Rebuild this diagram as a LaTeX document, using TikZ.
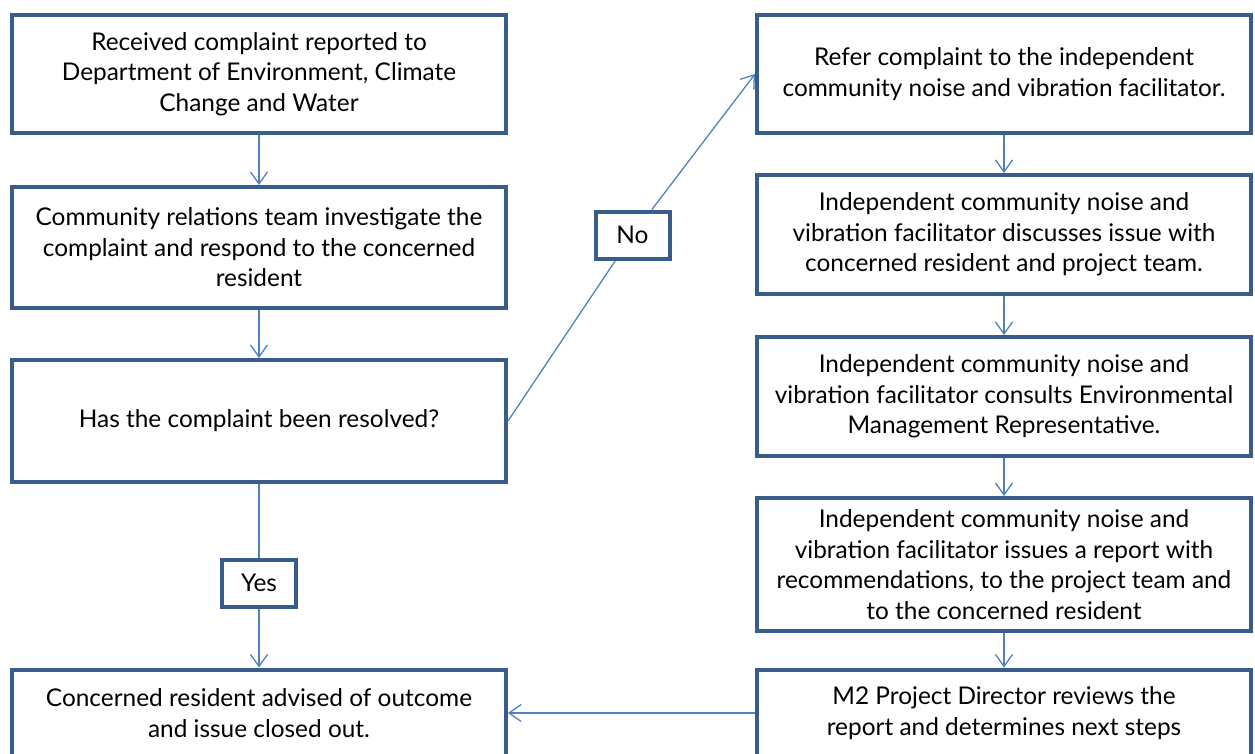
\documentclass[tikz,border=0pt]{standalone}
\usepackage{fontspec}
\setmainfont{Lato}
\usetikzlibrary{arrows.meta}
\definecolor{boxblue}{RGB}{56,93,138}
\definecolor{linkblue}{RGB}{79,129,189}

\begin{document}
\begin{tikzpicture}[x=1pt,y=-1pt,
  box/.style={draw=boxblue,line width=4pt,minimum width=494pt,align=center,inner sep=0pt,font=\fontsize{24.4}{30.5}\selectfont},
  tag/.style={draw=boxblue,line width=4pt,minimum width=74pt,minimum height=47pt,inner sep=0pt,font=\fontsize{24.4}{28}\selectfont},
  link/.style={draw=linkblue,line width=1.3pt},
  tip/.style={-{Straight Barb[length=12pt,width=17pt]}}]
\useasboundingbox (0,0) rectangle (1255,753);
\clip (0,0) rectangle (1255,753);

\node[box,minimum height=118pt] (1) at (259,74) {Received complaint reported to\\Department of Environment, Climate\\Change and Water};
\node[box,minimum height=121pt] (2) at (259,247.5) {Community relations team investigate the\\complaint and respond to the concerned\\resident};
\node[box,minimum height=122pt] (3) at (259,421) {Has the complaint been resolved?};
\node[box,minimum height=87pt] (4) at (259,713) {Concerned resident advised of outcome\\and issue closed out.};
\node[box,minimum height=118pt] (5) at (1004,74) {Refer complaint to the independent\\community noise and vibration facilitator.};
\node[box,minimum height=119pt] (6) at (1004,234.5) {Independent community noise and\\vibration facilitator discusses issue with\\concerned resident and project team.};
\node[box,minimum height=119pt] (7) at (1004,396.5) {Independent community noise and\\vibration facilitator consults Environmental\\Management Representative.};
\node[box,minimum height=133pt] (8) at (1004,564.5) {Independent community noise and\\vibration facilitator issues a report with\\recommendations, to the project team and\\to the concerned resident};
\node[box,minimum height=87pt] (9) at (1004,713) {M2 Project Director reviews the\\report and determines next steps};
\node[tag] (y) at (259,583) {Yes};
\node[tag] (n) at (632.5,235) {No};

\path[link,tip] (1) -- (2);
\path[link,tip] (2) -- (3);
\path[link] (3) -- (y);
\path[link,tip] (y) -- (4);
\path[link] (3.east) -- (n);
\path[link,tip] (n) -- (5.west);
\path[link,tip] (5) -- (6);
\path[link,tip] (6) -- (7);
\path[link,tip] (7) -- (8);
\path[link,tip] (8) -- (9);
\path[link,tip] (9) -- (4);

\end{tikzpicture}
\end{document}
